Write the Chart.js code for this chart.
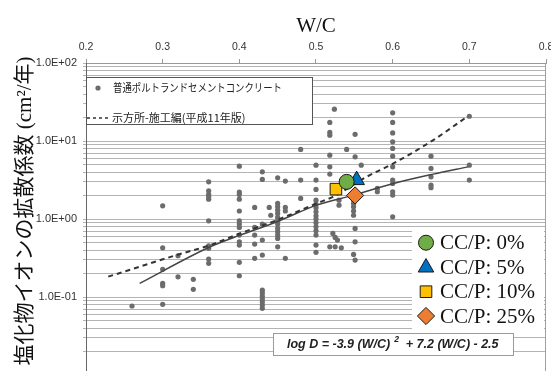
<!DOCTYPE html>
<html>
<head>
<meta charset="utf-8">
<script src="https://cdn.jsdelivr.net/npm/chart.js@4/dist/chart.umd.min.js"></script>
<style>
  html, body { margin: 0; padding: 0; background: #fff; }
  canvas { display: block; }
</style>
</head>
<body>
<canvas id="chart" width="551" height="371"></canvas>
<script>
// Ordinary Portland cement concrete: W/C and chloride diffusion coefficient D (cm²/year)
const opcWC = [
  0.26,
  0.30, 0.30, 0.30, 0.30, 0.30, 0.30,
  0.32, 0.32,
  0.34, 0.34,
  0.36, 0.36, 0.36, 0.36, 0.36, 0.36, 0.36, 0.36, 0.36, 0.36,
  0.40, 0.40, 0.40, 0.40, 0.40, 0.40, 0.40, 0.40, 0.40, 0.40, 0.40, 0.40, 0.40,
  0.42, 0.42, 0.42, 0.42, 0.42,
  0.43, 0.43, 0.43, 0.43, 0.43, 0.43, 0.43, 0.43, 0.43, 0.43, 0.43, 0.43,
  0.439, 0.441,
  0.45, 0.45, 0.45, 0.45, 0.45, 0.45, 0.45, 0.45, 0.45, 0.45, 0.45, 0.45, 0.45,
  0.46, 0.46, 0.46, 0.46,
  0.48, 0.48, 0.48,
  0.50, 0.50, 0.50, 0.50, 0.50, 0.50, 0.50, 0.50, 0.50, 0.50, 0.50, 0.50, 0.50, 0.50, 0.50,
  0.518, 0.518, 0.518, 0.518, 0.518, 0.518, 0.518,
  0.522, 0.524, 0.525, 0.525, 0.528, 0.530, 0.530, 0.533,
  0.540,
  0.551, 0.551, 0.551, 0.551, 0.551,
  0.549, 0.549, 0.549, 0.549, 0.549, 0.549,
  0.559,
  0.58, 0.58,
  0.60, 0.60, 0.60, 0.60, 0.60, 0.60, 0.60, 0.60, 0.60, 0.60, 0.60, 0.60,
  0.65, 0.65, 0.65, 0.65, 0.65,
  0.70, 0.70, 0.70
];
const opcD = [
  0.077,
  1.48, 0.429, 0.227, 0.150, 0.140, 0.081,
  0.339, 0.182,
  0.169, 0.126,
  3.00, 2.30, 2.07, 1.93, 1.80, 0.951, 0.455, 0.422, 0.308, 0.271,
  4.77, 2.22, 2.07, 1.80, 1.27, 0.951, 0.863, 0.783, 0.624, 0.512, 0.465, 0.279, 0.188,
  1.41, 0.783, 0.624, 0.479, 0.314,
  4.03, 3.22, 0.863, 0.538, 0.346, 0.123, 0.113, 0.103, 0.0946, 0.0865, 0.0792, 0.0719,
  1.41, 1.12,
  3.38, 1.59, 1.44, 1.30, 1.18, 1.05, 0.951, 0.863, 0.760, 0.688, 0.624, 0.566, 0.442,
  3.07, 1.41, 1.27, 0.314,
  7.80, 3.16, 1.84,
  4.91, 3.16, 2.40, 1.75, 1.56, 1.40, 1.24, 1.10, 1.00, 0.897, 0.797, 0.708, 0.624, 0.465, 0.375,
  17.3, 12.9, 11.9, 6.60, 4.68, 3.77, 0.442,
  0.656, 25.6, 0.583, 0.442, 0.538, 1.75, 1.51, 0.429,
  7.80,
  12.2, 6.28, 0.760, 0.512, 0.299,
  1.75, 1.59, 1.44, 1.27, 1.12, 0.353,
  4.91,
  2.47, 2.24,
  23.0, 17.3, 12.7, 9.77, 8.04, 6.41, 4.68, 3.16, 2.86, 2.24, 2.03, 1.07,
  6.41, 4.46, 3.48, 2.72, 2.52,
  20.8, 4.91, 3.16
];

// Regression curve through the OPC data
const fitWC = [0.270, 0.362, 0.401, 0.449, 0.501, 0.549, 0.601, 0.653, 0.698];
const fitD  = [0.150, 0.442, 0.624, 0.924, 1.51, 2.03, 2.86, 3.77, 4.67];

// Design curve of the standard specification (1999 edition)
const stdWC = [0.229, 0.318, 0.362, 0.401, 0.449, 0.501, 0.522, 0.566, 0.601, 0.653, 0.698];
const stdD  = [0.183, 0.346, 0.465, 0.656, 0.971, 1.59, 1.93, 3.48, 5.17, 10.3, 20.8];

// Concretes with CC/P replacement
const ccLabels = ['CC/P: 0%', 'CC/P: 5%', 'CC/P: 10%', 'CC/P: 25%'];
const ccWC = [0.540, 0.553, 0.526, 0.551];
const ccD  = [3.00, 3.16, 2.42, 2.01];
const ccColors = ['#70AD47', '#0070C0', '#FFC000', '#ED7D31'];
const ccStyles = ['circle', 'triangle', 'rect', 'rectRot'];
const ccRadii = [7.5, 9, 8.2, 8.6];

// Axis ticks
const xTickValues = [0.2, 0.3, 0.4, 0.5, 0.6, 0.7, 0.8];
const xTickLabels = ['0.2', '0.3', '0.4', '0.5', '0.6', '0.7', '0.8'];
const yGridValues = [
  0.02, 0.03, 0.04, 0.05, 0.06, 0.07, 0.08, 0.09,
  0.1, 0.2, 0.3, 0.4, 0.5, 0.6, 0.7, 0.8, 0.9,
  1, 2, 3, 4, 5, 6, 7, 8, 9,
  10, 20, 30, 40, 50, 60, 70, 80, 90, 100
];
const yTickValues = [0.1, 1, 10, 100];
const yTickLabels = ['1.0E-01', '1.0E+00', '1.0E+01', '1.0E+02'];

const xTitle = 'W/C';
const yTitle = '塩化物イオンの拡散係数 (cm²/年)';
const opcLabel = '普通ポルトランドセメントコンクリート';
const stdLabel = '示方所-施工編(平成11年版)';
const fitText = ['log D = -3.9 (W/C)', '2', '  + 7.2 (W/C) - 2.5'];

const toPoints = (xs, ys) => xs.map((x, i) => ({ x: x, y: ys[i] }));

const datasets = [];
ccLabels.forEach((lab, i) => {
  datasets.push({
    label: lab,
    data: [{ x: ccWC[i], y: ccD[i] }],
    pointStyle: ccStyles[i],
    pointRadius: ccRadii[i],
    backgroundColor: ccColors[i],
    borderColor: '#1a1a1a',
    borderWidth: 1,
    order: 0
  });
});
datasets.push({
  label: stdLabel,
  data: toPoints(stdWC, stdD),
  showLine: true,
  borderColor: '#333',
  borderWidth: 2,
  borderDash: [5, 4],
  pointRadius: 0,
  cubicInterpolationMode: 'monotone',
  order: 1
});
datasets.push({
  label: 'fit',
  data: toPoints(fitWC, fitD),
  showLine: true,
  borderColor: '#454545',
  borderWidth: 1.5,
  pointRadius: 0,
  cubicInterpolationMode: 'monotone',
  order: 1
});
datasets.push({
  label: opcLabel,
  data: toPoints(opcWC, opcD),
  pointStyle: 'circle',
  pointRadius: 2.6,
  backgroundColor: '#6c6c6c',
  borderWidth: 0,
  order: 2
});

function marker(ctx, style, radius, x, y, fill) {
  ctx.fillStyle = fill;
  ctx.strokeStyle = '#1a1a1a';
  ctx.lineWidth = 1;
  if (Chart.helpers && Chart.helpers.drawPoint) {
    Chart.helpers.drawPoint(ctx, { pointStyle: style, radius: radius, borderWidth: 1, rotation: 0 }, x, y);
  } else {
    ctx.beginPath(); ctx.arc(x, y, radius, 0, Math.PI * 2); ctx.fill(); ctx.stroke();
  }
}

const decor = {
  id: 'decor',
  afterDraw(chart) {
    const { ctx, chartArea: a } = chart;
    ctx.save();

    // right frame
    ctx.strokeStyle = '#a0a0a0';
    ctx.lineWidth = 1;
    ctx.beginPath();
    ctx.moveTo(a.right - 0.5, a.top);
    ctx.lineTo(a.right - 0.5, a.bottom);
    ctx.stroke();

    // axis titles
    ctx.fillStyle = '#111';
    ctx.textAlign = 'center';
    ctx.textBaseline = 'middle';
    ctx.font = "21px 'Liberation Serif'";
    ctx.fillText(xTitle, (a.left + a.right) / 2, 26);
    ctx.save();
    ctx.translate(25, 211);
    ctx.rotate(-Math.PI / 2);
    ctx.font = "21px 'Liberation Serif', 'Noto Sans CJK JP'";
    ctx.fillText(yTitle, 0, 0);
    ctx.restore();

    // legend for OPC data and design curve
    ctx.fillStyle = '#fff';
    ctx.fillRect(86.5, 77.5, 226, 47);
    ctx.strokeStyle = '#555';
    ctx.strokeRect(86.5, 77.5, 226, 47);
    ctx.fillStyle = '#6c6c6c';
    ctx.beginPath(); ctx.arc(98, 88, 2.6, 0, Math.PI * 2); ctx.fill();
    ctx.strokeStyle = '#333';
    ctx.lineWidth = 1.5;
    ctx.setLineDash([3, 3]);
    ctx.beginPath(); ctx.moveTo(87, 118); ctx.lineTo(110, 118); ctx.stroke();
    ctx.setLineDash([]);
    ctx.fillStyle = '#222';
    ctx.textAlign = 'left';
    ctx.font = "11px 'Noto Sans CJK JP'";
    ctx.fillText(opcLabel, 113, 88, 169);
    ctx.fillText(stdLabel, 112, 118);

    // legend for CC/P series
    ctx.fillStyle = '#fff';
    ctx.fillRect(412, 230, 132, 100);
    const rows = [242.7, 267.5, 291.7, 316];
    ccLabels.forEach((lab, i) => {
      marker(ctx, ccStyles[i], ccRadii[i], 426, rows[i], ccColors[i]);
      ctx.fillStyle = '#111';
      ctx.textAlign = 'left';
      ctx.textBaseline = 'middle';
      ctx.font = "21px 'Liberation Serif'";
      ctx.fillText(lab, 440, rows[i] + 1);
    });

    // regression formula box
    ctx.fillStyle = '#fff';
    ctx.fillRect(273.5, 333.5, 240, 22);
    ctx.strokeStyle = '#9a9a9a';
    ctx.lineWidth = 1;
    ctx.strokeRect(273.5, 333.5, 240, 22);
    ctx.fillStyle = '#222';
    ctx.textBaseline = 'middle';
    ctx.font = "italic bold 12.5px 'Liberation Sans'";
    let x = 287;
    ctx.fillText(fitText[0], x, 345);
    x += ctx.measureText(fitText[0]).width + 4;
    ctx.font = "italic bold 8.5px 'Liberation Sans'";
    ctx.fillText(fitText[1], x, 340);
    x += ctx.measureText(fitText[1]).width;
    ctx.font = "italic bold 12.5px 'Liberation Sans'";
    ctx.fillText(fitText[2], x, 345);

    ctx.restore();
  }
};

new Chart(document.getElementById('chart'), {
  type: 'scatter',
  data: { datasets: datasets },
  options: {
    responsive: false,
    animation: false,
    devicePixelRatio: 1,
    layout: { autoPadding: false, padding: { left: 0, right: 5, top: 0, bottom: 0 } },
    plugins: { legend: { display: false }, tooltip: { enabled: false } },
    scales: {
      x: {
        type: 'linear',
        position: 'top',
        min: 0.2,
        max: 0.8,
        afterBuildTicks: s => { s.ticks = xTickValues.map(v => ({ value: v })); },
        afterFit: s => { s.height = 63; s.paddingLeft = 0; s.paddingRight = 0; },
        ticks: {
          autoSkip: false,
          maxRotation: 0,
          padding: 6,
          color: '#333',
          font: { family: "'Liberation Sans'", size: 10.5 },
          callback: v => xTickLabels[xTickValues.indexOf(v)]
        },
        grid: { drawOnChartArea: false, drawTicks: true, tickLength: 4, color: '#999' },
        border: { display: true, color: '#999' }
      },
      y: {
        type: 'logarithmic',
        min: 0.01132,
        max: 100,
        afterBuildTicks: s => { s.ticks = yGridValues.map(v => ({ value: v })); },
        afterFit: s => { s.width = 86; s.paddingTop = 0; s.paddingBottom = 0; },
        ticks: {
          autoSkip: false,
          padding: 6,
          color: '#333',
          font: { family: "'Liberation Sans'", size: 11 },
          callback: v => { const i = yTickValues.indexOf(v); return i >= 0 ? yTickLabels[i] : ''; }
        },
        grid: { color: '#b4b4b4', lineWidth: 1, drawTicks: true, tickLength: 3 },
        border: { display: true, color: '#666', width: 1 }
      }
    }
  },
  plugins: [decor]
});
</script>
</body>
</html>
